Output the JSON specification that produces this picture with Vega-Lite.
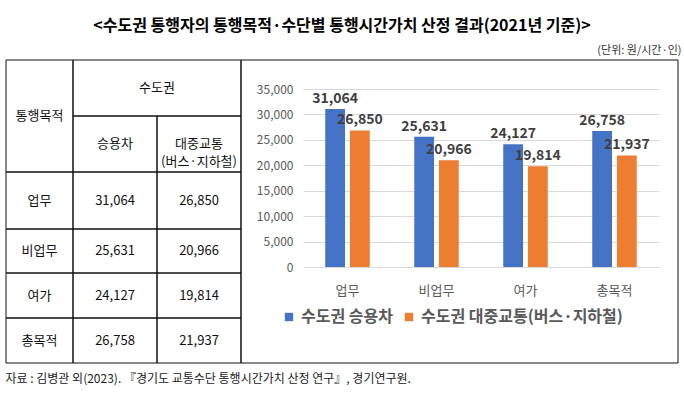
{
  "$schema": "https://vega.github.io/schema/vega-lite/v6.json",
  "width": 684,
  "height": 333,
  "autosize": {"type": "none"},
  "padding": {"top": 60, "left": 0, "right": 0, "bottom": 0},
  "background": "white",
  "title": {
    "text": "<수도권 통행자의 통행목적·수단별 통행시간가치 산정 결과(2021년 기준)>",
    "anchor": "middle",
    "frame": "group",
    "font": "Noto Sans CJK KR",
    "fontSize": 16,
    "fontWeight": "bold",
    "color": "#000000",
    "offset": 10
  },
  "config": {
    "view": {"stroke": null},
    "font": "Noto Sans CJK KR"
  },
  "datasets": {
    "bars": [
      {"purpose": "업무", "mode": "수도권 승용차", "value": 31064},
      {"purpose": "업무", "mode": "수도권 대중교통(버스·지하철)", "value": 26850},
      {"purpose": "비업무", "mode": "수도권 승용차", "value": 25631},
      {"purpose": "비업무", "mode": "수도권 대중교통(버스·지하철)", "value": 20966},
      {"purpose": "여가", "mode": "수도권 승용차", "value": 24127},
      {"purpose": "여가", "mode": "수도권 대중교통(버스·지하철)", "value": 19814},
      {"purpose": "총목적", "mode": "수도권 승용차", "value": 26758},
      {"purpose": "총목적", "mode": "수도권 대중교통(버스·지하철)", "value": 21937}
    ],
    "cells": [
      {"text": "통행목적", "c0": 0, "c1": 1, "r0": 0, "r1": 2, "cm": 0.5, "rm": 1},
      {"text": "수도권", "c0": 1, "c1": 3, "r0": 0, "r1": 1, "cm": 2, "rm": 0.5},
      {"text": "승용차", "c0": 1, "c1": 2, "r0": 1, "r1": 2, "cm": 1.5, "rm": 1.5},
      {"text": "대중교통\n(버스·지하철)", "c0": 2, "c1": 3, "r0": 1, "r1": 2, "cm": 2.5, "rm": 1.5},
      {"text": "업무", "c0": 0, "c1": 1, "r0": 2, "r1": 3, "cm": 0.5, "rm": 2.5},
      {"text": "31,064", "c0": 1, "c1": 2, "r0": 2, "r1": 3, "cm": 1.5, "rm": 2.5},
      {"text": "26,850", "c0": 2, "c1": 3, "r0": 2, "r1": 3, "cm": 2.5, "rm": 2.5},
      {"text": "비업무", "c0": 0, "c1": 1, "r0": 3, "r1": 4, "cm": 0.5, "rm": 3.5},
      {"text": "25,631", "c0": 1, "c1": 2, "r0": 3, "r1": 4, "cm": 1.5, "rm": 3.5},
      {"text": "20,966", "c0": 2, "c1": 3, "r0": 3, "r1": 4, "cm": 2.5, "rm": 3.5},
      {"text": "여가", "c0": 0, "c1": 1, "r0": 4, "r1": 5, "cm": 0.5, "rm": 4.5},
      {"text": "24,127", "c0": 1, "c1": 2, "r0": 4, "r1": 5, "cm": 1.5, "rm": 4.5},
      {"text": "19,814", "c0": 2, "c1": 3, "r0": 4, "r1": 5, "cm": 2.5, "rm": 4.5},
      {"text": "총목적", "c0": 0, "c1": 1, "r0": 5, "r1": 6, "cm": 0.5, "rm": 5.5},
      {"text": "26,758", "c0": 1, "c1": 2, "r0": 5, "r1": 6, "cm": 1.5, "rm": 5.5},
      {"text": "21,937", "c0": 2, "c1": 3, "r0": 5, "r1": 6, "cm": 2.5, "rm": 5.5},
      {"text": "", "c0": 3, "c1": 4, "r0": 0, "r1": 6, "cm": 3.5, "rm": 3}
    ]
  },
  "layer": [
    {
      "data": {"name": "cells"},
      "layer": [
        {
          "mark": {"type": "rect", "fill": "transparent", "stroke": "#111111", "strokeWidth": 1},
          "encoding": {
            "x": {
              "field": "c0", "type": "quantitative",
              "scale": {"domain": [0, 1, 2, 3, 4], "range": [6, 73, 157, 241, 678], "nice": false, "zero": false},
              "axis": {"orient": "top", "labels": false, "ticks": false, "domain": false, "grid": false,
                "title": "(단위: 원/시간·인)", "titleX": 681, "titleY": -5, "titleAlign": "right", "titleBaseline": "bottom",
                "titleFontSize": 11, "titleFontWeight": "normal", "titleColor": "#333333", "titleFont": "Noto Sans CJK KR"}
            },
            "x2": {"field": "c1"},
            "y": {
              "field": "r0", "type": "quantitative",
              "scale": {"domain": [0, 1, 2, 3, 4, 5, 6], "range": [0, 56, 112, 169, 213, 258, 303], "nice": false, "zero": false},
              "axis": {"orient": "left", "labels": false, "ticks": false, "domain": false, "grid": false,
                "title": "자료 : 김병관 외(2023). 『경기도 교통수단 통행시간가치 산정 연구』, 경기연구원.",
                "titleAngle": 0, "titleX": 5, "titleY": 318, "titleAlign": "left", "titleBaseline": "middle", "titleLimit": 1000,
                "titleFontSize": 12, "titleFontWeight": "normal", "titleColor": "#222222", "titleFont": "Noto Sans CJK KR"}
            },
            "y2": {"field": "r1"}
          }
        },
        {
          "mark": {"type": "text", "fontSize": 13, "color": "#111111", "lineBreak": "\n", "lineHeight": 18, "font": "Noto Sans CJK KR"},
          "encoding": {
            "x": {
              "field": "cm", "type": "quantitative",
              "scale": {"domain": [0, 1, 2, 3, 4], "range": [6, 73, 157, 241, 678], "nice": false, "zero": false},
              "axis": {"orient": "top", "labels": false, "ticks": false, "domain": false, "grid": false,
                "title": "(단위: 원/시간·인)", "titleX": 681, "titleY": -5, "titleAlign": "right", "titleBaseline": "bottom",
                "titleFontSize": 11, "titleFontWeight": "normal", "titleColor": "#333333", "titleFont": "Noto Sans CJK KR"}
            },
            "y": {
              "field": "rm", "type": "quantitative",
              "scale": {"domain": [0, 1, 2, 3, 4, 5, 6], "range": [0, 56, 112, 169, 213, 258, 303], "nice": false, "zero": false},
              "axis": {"orient": "left", "labels": false, "ticks": false, "domain": false, "grid": false,
                "title": "자료 : 김병관 외(2023). 『경기도 교통수단 통행시간가치 산정 연구』, 경기연구원.",
                "titleAngle": 0, "titleX": 5, "titleY": 318, "titleAlign": "left", "titleBaseline": "middle", "titleLimit": 1000,
                "titleFontSize": 12, "titleFontWeight": "normal", "titleColor": "#222222", "titleFont": "Noto Sans CJK KR"}
            },
            "text": {"field": "text"}
          }
        }
      ]
    },
    {
      "data": {"name": "bars"},
      "encoding": {
        "x": {
          "field": "purpose", "type": "nominal", "sort": ["업무", "비업무", "여가", "총목적"],
          "scale": {"range": [303, 659], "paddingInner": 0.5, "paddingOuter": 0.25},
          "axis": {"orient": "bottom", "offset": -126, "title": null, "ticks": false, "domain": false, "labelAngle": 0,
            "labelPadding": 17, "labelFontSize": 13, "labelColor": "#595959", "labelFont": "Noto Sans CJK KR", "grid": false}
        },
        "xOffset": {
          "field": "mode", "type": "nominal", "sort": ["수도권 승용차", "수도권 대중교통(버스·지하철)"],
          "scale": {"paddingInner": 0.2}
        },
        "y": {
          "field": "value", "type": "quantitative",
          "scale": {"domain": [0, 35000], "range": [207, 29], "nice": false},
          "axis": {"orient": "left", "offset": -303, "title": null, "ticks": false, "tickSize": 0, "domain": false,
            "labelPadding": 10, "labelFontSize": 12, "labelColor": "#595959", "labelFont": "Noto Sans CJK KR",
            "labelExpr": "format(datum.value, ',')",
            "values": [0, 5000, 10000, 15000, 20000, 25000, 30000, 35000], "grid": true, "gridColor": "#D9D9D9", "gridWidth": 1}
        }
      },
      "layer": [
        {
          "mark": {"type": "bar"},
          "encoding": {
            "color": {
              "field": "mode", "type": "nominal", "sort": ["수도권 승용차", "수도권 대중교통(버스·지하철)"],
              "scale": {"range": ["#4472C4", "#ED7D31"]},
              "legend": {"orient": "none", "legendX": 281, "legendY": 249, "direction": "horizontal", "title": null,
                "symbolType": "square", "symbolSize": 70, "symbolStrokeWidth": 0, "labelFontSize": 16, "labelFontWeight": "bold",
                "labelColor": "#595959", "labelFont": "Noto Sans CJK KR", "columnPadding": 8, "labelOffset": 4, "labelLimit": 400}
            }
          }
        },
        {
          "mark": {"type": "text", "baseline": "bottom", "dy": -3, "fontSize": 14, "fontWeight": "bold", "color": "#404040", "font": "Noto Sans CJK KR"},
          "encoding": {
            "text": {"field": "value", "type": "quantitative", "format": ","}
          }
        }
      ]
    }
  ],
  "resolve": {"scale": {"x": "independent", "y": "independent"}}
}
